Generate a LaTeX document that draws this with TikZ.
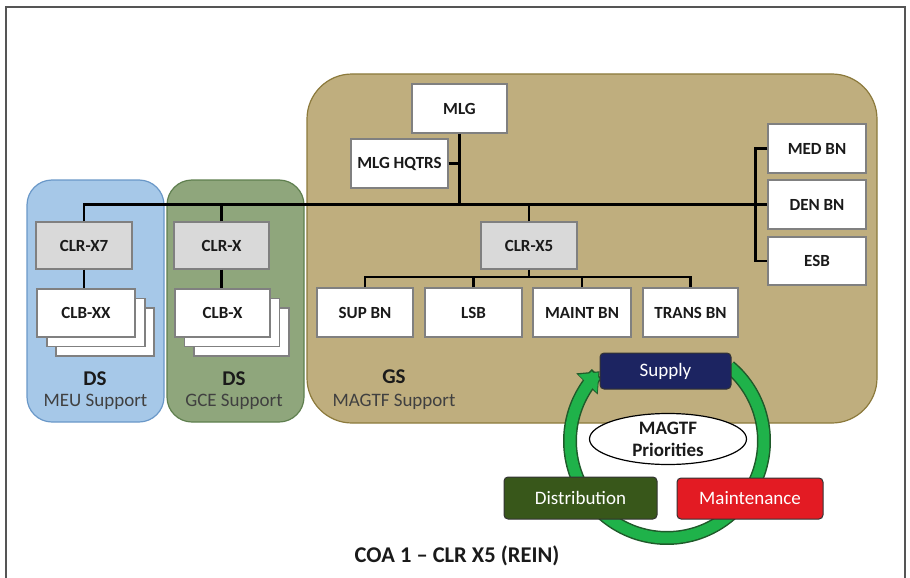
\documentclass[tikz,border=0pt]{standalone}
\usepackage{fontspec}
\setmainfont{Carlito}
\usetikzlibrary{arrows.meta,shapes.geometric}
\definecolor{tanfill}{HTML}{BFAE7E}
\definecolor{tanline}{HTML}{8C7A3C}
\definecolor{bluefill}{HTML}{A6C8E8}
\definecolor{blueline}{HTML}{6A98C8}
\definecolor{greenfill}{HTML}{8FA67C}
\definecolor{greenline}{HTML}{5F7F4F}
\definecolor{boxgray}{HTML}{D9D9D9}
\definecolor{boxline}{HTML}{808080}
\definecolor{txt}{HTML}{1A1A1A}
\definecolor{subtxt}{HTML}{404040}
\definecolor{navy}{HTML}{1C2461}
\definecolor{distgreen}{HTML}{38571A}
\definecolor{maintred}{HTML}{E31B23}
\definecolor{ringgreen}{HTML}{1FB24A}
\definecolor{ringdark}{HTML}{1F5A2A}
\definecolor{framecol}{HTML}{555555}
\begin{document}
\begin{tikzpicture}[x=1pt,y=-1pt,
  box/.style={draw=boxline, line width=1.2pt, fill=white, text=txt,
    font=\bfseries\fontsize{17}{17}\selectfont, inner sep=0pt},
  graybox/.style={box, fill=boxgray},
  conn/.style={draw=black, line width=2.4pt},
  pill/.style={draw=black!80, line width=1pt, rounded corners=4pt, text=white,
    font=\fontsize{19}{19}\selectfont, inner sep=0pt},
  dslabel/.style={text=txt, font=\bfseries\fontsize{21}{21}\selectfont},
  sublabel/.style={text=subtxt, font=\fontsize{19}{19}\selectfont}
]
\useasboundingbox (0,0) rectangle (910,578);
% frame
\draw[framecol, line width=1.5pt] (6,578) -- (6,7) -- (905,7) -- (905,578);
% regions
\draw[fill=tanfill, draw=tanline, line width=1.2pt, rounded corners=45pt] (307,74) rectangle (877,423);
\draw[fill=bluefill, draw=blueline, line width=1.2pt, rounded corners=25pt] (27,180) rectangle (164,422);
\draw[fill=greenfill, draw=greenline, line width=1.2pt, rounded corners=25pt] (167,180) rectangle (304,422);
% nodes
\node[box, minimum width=95pt, minimum height=49pt] (mlg) at (459.5,108.5) {MLG};
\node[box, minimum width=97pt, minimum height=49pt] (hqtrs) at (399.5,163.5) {MLG HQTRS};
\node[box, minimum width=98pt, minimum height=49pt] (med) at (817,148.5) {MED BN};
\node[box, minimum width=98pt, minimum height=49pt] (den) at (817,204.5) {DEN BN};
\node[box, minimum width=98pt, minimum height=48pt] (esb) at (817,261) {ESB};
\node[graybox, minimum width=96pt, minimum height=47pt] (clrx5) at (529,245.5) {CLR-X5};
\node[box, minimum width=96pt, minimum height=49pt] (sup) at (365,312.5) {SUP BN};
\node[box, minimum width=97pt, minimum height=49pt] (lsb) at (473.5,312.5) {LSB};
\node[box, minimum width=98pt, minimum height=49pt] (maint) at (582,312.5) {MAINT BN};
\node[box, minimum width=95pt, minimum height=49pt] (trans) at (690.5,312.5) {TRANS BN};
\node[graybox, minimum width=96pt, minimum height=47pt] (clrx7) at (84,245.5) {CLR-X7};
\node[graybox, minimum width=95pt, minimum height=47pt] (clrx) at (221.5,245.5) {CLR-X};
% stacked CLB boxes
\node[box, minimum width=98pt, minimum height=48pt] (clbxxc) at (105,332) {};
\node[box, minimum width=98pt, minimum height=48pt] (clbxxb) at (96,322.5) {};
\node[box, minimum width=98pt, minimum height=48pt] (clbxx) at (86,313) {CLB-XX};
\node[box, minimum width=95pt, minimum height=48pt] (clbxc) at (241.5,332) {};
\node[box, minimum width=95pt, minimum height=48pt] (clbxb) at (232,322.5) {};
\node[box, minimum width=95pt, minimum height=48pt] (clbx) at (222.5,313) {CLB-X};
% connectors
\draw[conn] (clrx7.north) |- (den.west);
\draw[conn] (clrx.north) -- (clrx.north |- den.west);
\draw[conn] (mlg.south) -- (mlg.south |- den.west);
\draw[conn] (hqtrs.east) -- (hqtrs.east -| mlg.south);
\draw[conn] (clrx5.north) -- (clrx5.north |- den.west);
\draw[conn] (med.west) -- +(-12,0) |- (esb.west);
\draw[conn] (clrx7.south) -- (clrx7.south |- clbxx.north);
\draw[conn] (clrx.south) -- (clrx.south |- clbx.north);
\coordinate (br) at (529,277);
\draw[conn] (clrx5.south) -- (br);
\draw[conn] (sup.north) |- (br) -| (trans.north);
\draw[conn] (lsb.north) -- (lsb.north |- br);
\draw[conn] (maint.north) -- (maint.north |- br);
% labels
\node[dslabel] (ds1) at (95,379) {DS};
\node[sublabel] (meu) at (95.5,402) {MEU Support};
\node[dslabel] (ds2) at (234,379) {DS};
\node[sublabel] (gce) at (234,402) {GCE Support};
\node[dslabel] (gs) at (394,377) {GS};
\node[sublabel] (magtfs) at (394,402) {MAGTF Support};
% cycle ring
\draw[ringdark, line width=14pt, -{Triangle[width=29pt,length=18pt]}]
  plot[domain=-50:226, samples=120] ({667+97*cos(\x)},{441+97*sin(\x)});
\draw[ringgreen, line width=11pt, -{Triangle[width=25pt,length=15.5pt]}]
  plot[domain=-50:225, samples=120] ({667+97*cos(\x)},{441+97*sin(\x)});
\node[ellipse, draw=black, line width=1.2pt, fill=white, minimum width=157pt, minimum height=51pt,
  inner sep=0pt, align=center, text=txt, font=\bfseries\fontsize{19}{22}\selectfont] (prio) at (668,439) {MAGTF\\Priorities};
\node[pill, fill=navy, minimum width=131pt, minimum height=36pt] (supply) at (665.5,371) {Supply};
\node[pill, fill=distgreen, minimum width=153pt, minimum height=42pt] (dist) at (580.5,498) {Distribution};
\node[pill, fill=maintred, minimum width=146pt, minimum height=41pt] (mnt) at (750,498.5) {Maintenance};
% title
\node[text=txt, font=\bfseries\fontsize{22.5}{22.5}\selectfont] (title) at (457,556) {COA 1 – CLR X5 (REIN)};
\end{tikzpicture}
\end{document}
